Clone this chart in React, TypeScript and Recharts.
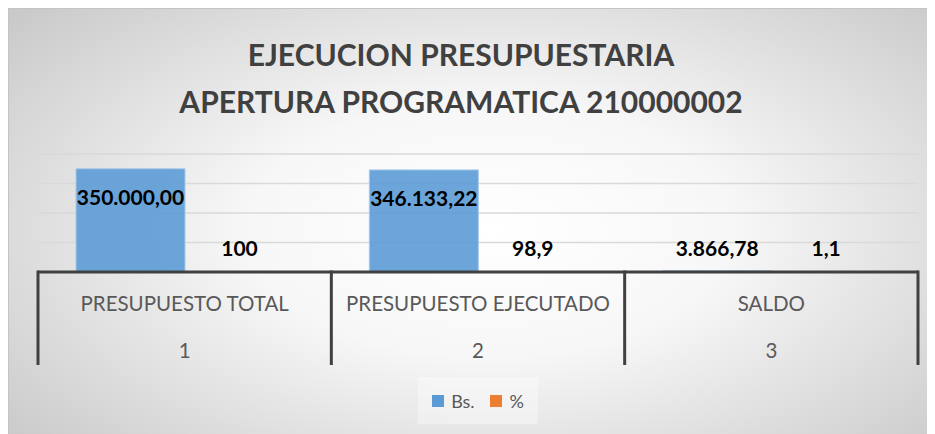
import { BarChart, Bar, XAxis, YAxis, CartesianGrid, Legend, LabelList } from 'recharts'

const CATEGORIAS = ['PRESUPUESTO TOTAL', 'PRESUPUESTO EJECUTADO', 'SALDO']
const NIVELES = ['1', '2', '3']
const MONTOS_BS = [350000, 346133.22, 3866.78]
const PORCENTAJES = [100, 98.9, 1.1]
const TICKS_Y = [0, 100000, 200000, 300000, 400000]

const datos = CATEGORIAS.map((c, i) => ({
  categoria: c,
  nivel: NIVELES[i],
  bs: MONTOS_BS[i],
  pct: PORCENTAJES[i],
}))

const ANCHO = 924
const ALTO = 425
const MARGEN = { top: 145, right: 15, bottom: 10, left: 29 }
const ANCHO_PLOT = ANCHO - MARGEN.left - MARGEN.right
const ALTO_EJE = 93
const FUENTE = 'Lato, "Open Sans", sans-serif'

function formatoBs(v: number) {
  const [ent, dec] = v.toFixed(2).split('.')
  return ent.replace(/\B(?=(\d{3})+(?!\d))/g, '.') + ',' + dec
}

function formatoPct(v: number) {
  return String(v).replace('.', ',')
}

function etiqueta(fmt: (v: number) => string) {
  return (props: any) => {
    const { x, y, width, height, value } = props
    const cy = height > 40 ? y + 28 : y + height - 25
    return (
      <text x={x + width / 2} y={cy} textAnchor="middle" dominantBaseline="central"
        fontFamily={FUENTE} fontWeight={700} fontSize={21} fill="#000">
        {fmt(value)}
      </text>
    )
  }
}

function TickCategoria(props: any) {
  const { x, y, payload, index } = props
  const d = datos[payload.index ?? index]
  const banda = ANCHO_PLOT / datos.length
  const izq = x - banda / 2
  const der = x + banda / 2
  const ultimo = (payload.index ?? index) === datos.length - 1
  return (
    <g>
      <line x1={izq} x2={izq} y1={y - 1.5} y2={y + ALTO_EJE} stroke="#404040" strokeWidth={3} />
      {ultimo && <line x1={der} x2={der} y1={y - 1.5} y2={y + ALTO_EJE} stroke="#404040" strokeWidth={3} />}
      <text x={x} y={y + 31} textAnchor="middle" dominantBaseline="central"
        fontFamily={FUENTE} fontSize={20.5} fill="#595959">{d.categoria}</text>
      <text x={x} y={y + 78} textAnchor="middle" dominantBaseline="central"
        fontFamily={FUENTE} fontSize={20.5} fill="#595959">{d.nivel}</text>
    </g>
  )
}

function Leyenda() {
  const items = [
    { nombre: 'Bs.', color: '#5b9bd5' },
    { nombre: '%', color: '#ed7d31' },
  ]
  return (
    <div style={{ height: 59, display: 'flex', justifyContent: 'center', alignItems: 'flex-end' }}>
      <div style={{ height: 47, padding: '0 14px', display: 'flex', alignItems: 'center', gap: 16,
        background: 'rgba(255,255,255,0.35)' }}>
        {items.map(it => (
          <div key={it.nombre} style={{ display: 'flex', alignItems: 'center', gap: 7 }}>
            <span style={{ width: 12, height: 12, background: it.color, display: 'inline-block' }} />
            <span style={{ fontFamily: FUENTE, fontSize: 18, color: '#595959' }}>{it.nombre}</span>
          </div>
        ))}
      </div>
    </div>
  )
}

export default function App() {
  return (
    <div style={{
      position: 'relative', width: ANCHO, height: ALTO, border: '1px solid #c4c4c4',
      background: 'radial-gradient(ellipse 75% 85% at 52% 52%, #ffffff 0%, #f7f7f7 35%, #c2c2c2 100%)',
    }}>
      <div style={{
        position: 'absolute', top: 22, left: 0, width: ANCHO - 20, textAlign: 'center',
        fontFamily: FUENTE, fontWeight: 700, fontSize: 30, lineHeight: '47px', color: '#404040',
      }}>
        <div>EJECUCION PRESUPUESTARIA</div>
        <div>APERTURA PROGRAMATICA 210000002</div>
      </div>
      <BarChart width={ANCHO} height={ALTO} data={datos} margin={MARGEN} barGap={0} barSize={109}
        style={{ position: 'absolute', top: 0, left: 0 }}>
        <CartesianGrid horizontal vertical={false} stroke="#d9d9d9" strokeWidth={1.5} />
        <YAxis hide domain={[0, 400000]} ticks={TICKS_Y} />
        <XAxis dataKey="categoria" height={ALTO_EJE} tickSize={0} tickMargin={0} tickLine={false}
          axisLine={{ stroke: '#404040', strokeWidth: 3 }} tick={<TickCategoria />} interval={0} />
        <Legend verticalAlign="bottom" content={<Leyenda />} />
        <Bar dataKey="bs" name="Bs." fill="#5b9bd5" fillOpacity={0.9} stroke="#a9c9e9" strokeWidth={1}
          isAnimationActive={false}>
          <LabelList dataKey="bs" content={etiqueta(formatoBs)} />
        </Bar>
        <Bar dataKey="pct" name="%" fill="#ed7d31" isAnimationActive={false}>
          <LabelList dataKey="pct" content={etiqueta(formatoPct)} />
        </Bar>
      </BarChart>
    </div>
  )
}
